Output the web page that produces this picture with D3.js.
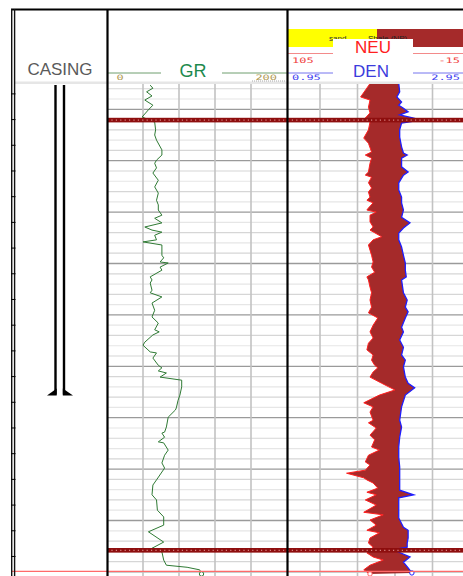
<!DOCTYPE html>
<html>
<head>
<meta charset="utf-8">
<script src="https://cdn.jsdelivr.net/npm/d3@7"></script>
<style>
body{margin:0;background:#fff;}
svg{display:block;font-family:"Liberation Sans",Arial,sans-serif;}
</style>
</head>
<body>
<div id="log"></div>
<script>
// well log: depth (m) vs GR (API), NEU (pu) and DEN (g/cc)
const grLog = [[1495.3,48],[1495.9,51],[1496.6,44],[1497.4,50],[1498.2,42],[1499.2,51],[1500.1,46],[1501.5,39],
  [1502.5,53],[1504.0,54],[1505.0,53],[1506.0,55],[1507.9,61],[1508.9,61],[1509.9,55],[1510.5,53],[1511.4,55],
  [1512.4,51],[1513.8,57],[1515.1,53],[1516.3,57],[1517.7,55],[1518.6,57],[1519.6,57],[1520.6,61],[1521.2,53],
  [1522.1,61],[1522.9,42],[1523.5,50],[1523.9,61],[1524.5,53],[1525.4,55],[1525.8,40],[1526.4,61],[1528.4,61],
  [1528.9,63],[1529.7,59],[1529.9,68],[1530.7,59],[1531.3,61],[1532.6,48],[1533.2,50],[1533.8,48],[1535.2,50],
  [1535.7,48],[1536.5,61],[1537.7,50],[1539.1,53],[1540.4,50],[1541.6,57],[1542.9,53],[1543.3,58],[1543.9,51],
  [1545.3,42],[1545.9,40],[1547.2,48],[1547.4,55],[1548.4,51],[1549.8,57],[1550.3,61],[1550.9,57],[1551.3,66],
  [1552.1,59],[1552.7,83],[1554.0,83],[1555.6,81],[1556.6,79],[1558.1,77],[1558.5,76],[1559.9,68],[1561.8,66],
  [1562.8,64],[1563.0,61],[1563.8,64],[1564.7,57],[1564.9,63],[1566.3,68],[1567.3,64],[1568.8,61],[1569.8,64],
  [1572.1,55],[1573.1,51],[1575.0,50],[1576.0,55],[1578.0,56],[1579.3,63],[1580.9,63],[1582.2,46],[1584.2,63],
  [1585.4,50],[1586.1,61],[1587.7,63],[1588.7,66],[1589.1,89],[1589.6,103],[1590.4,105]];

const neuLog = [[1495.0,49],[1497.6,55],[1498.2,49],[1499.6,50],[1500.7,49],[1501.7,52],[1502.5,49],[1504.0,50],
  [1505.6,53],[1506.6,50],[1508.3,48],[1508.9,52],[1509.5,48],[1510.5,49],[1512.2,50],[1512.8,52],[1513.2,48],
  [1514.3,50],[1515.3,48],[1516.1,50],[1517.1,49],[1517.7,51],[1518.2,47],[1519.2,50],[1519.6,51],[1520.0,45],
  [1520.6,49],[1521.9,49],[1522.9,47],[1523.5,49],[1524.8,41.5],[1525.4,47],[1526.4,50],[1527.4,49],[1528.4,48],
  [1529.7,47],[1530.7,48],[1531.7,46],[1532.6,51],[1533.2,50],[1534.6,49],[1535.7,48],[1537.1,49],[1538.5,48],
  [1539.6,50],[1540.6,44],[1542.0,47],[1543.3,49],[1544.5,47],[1545.5,50],[1546.8,51],[1547.8,47],[1548.8,48],
  [1549.8,46],[1550.3,44],[1551.1,47],[1552.1,49],[1553.3,41.5],[1554.0,37],[1554.6,33],[1555.6,43],[1557.1,53],
  [1557.9,47],[1558.9,49],[1560.5,47],[1561.0,50],[1562.0,45],[1563.4,49],[1564.3,46],[1565.7,48],[1566.3,43],
  [1567.3,50],[1568.6,52],[1569.2,49],[1570.2,52],[1570.8,64],[1571.7,53],[1572.1,51],[1572.7,47],[1573.7,44],
  [1574.5,51],[1575.0,45],[1576.0,52],[1577.0,45],[1578.4,53],[1578.9,40.5],[1579.9,49],[1580.9,45],[1581.9,51],
  [1582.4,43],[1583.4,49],[1584.4,50],[1585.2,47],[1586.3,51],[1587.1,47],[1587.7,40.5],[1588.7,49],[1589.6,53],
  [1590.4,49]];

const denLog = [[1495.0,2.19],[1496.6,2.20],[1497.6,2.17],[1498.6,2.22],[1499.2,2.19],[1499.8,2.24],[1500.5,2.29],
  [1501.1,2.20],[1501.7,2.35],[1502.1,2.42],[1502.7,2.22],[1504.0,2.20],[1505.4,2.20],[1507.3,2.22],[1508.5,2.24],
  [1508.9,2.28],[1509.5,2.22],[1511.2,2.22],[1512.2,2.29],[1512.8,2.24],[1514.3,2.19],[1515.7,2.19],[1517.1,2.22],
  [1518.2,2.22],[1519.6,2.24],[1521.0,2.22],[1522.1,2.31],[1523.1,2.24],[1524.1,2.19],[1525.4,2.19],[1526.8,2.22],
  [1528.4,2.24],[1529.9,2.26],[1531.3,2.26],[1532.6,2.27],[1533.2,2.22],[1535.7,2.24],[1537.1,2.28],[1538.5,2.26],
  [1539.4,2.29],[1540.6,2.26],[1542.4,2.22],[1543.3,2.24],[1544.9,2.20],[1546.3,2.24],[1547.8,2.22],[1548.8,2.26],
  [1550.1,2.24],[1552.1,2.26],[1553.3,2.29],[1554.2,2.36],[1555.6,2.26],[1557.9,2.22],[1560.5,2.20],[1561.8,2.22],
  [1563.8,2.20],[1565.7,2.19],[1567.7,2.19],[1569.6,2.20],[1571.7,2.20],[1574.1,2.20],[1575.0,2.35],[1575.6,2.19],
  [1578.0,2.19],[1579.5,2.19],[1581.3,2.24],[1581.9,2.29],[1583.4,2.29],[1584.4,2.28],[1585.2,2.28],[1585.7,2.13],
  [1587.1,2.31],[1588.1,2.24],[1589.2,2.29],[1590.2,2.33]];

// formation tops, total depth, casing shoe
const topDepths = [1502.1, 1585.8];
const tdDepth = 1589.9;
const casingShoe = 1555.5;

// ticks / labels
const depthGrid = d3.range(1496, 1591, 2);
const depthTicks = d3.range(1497, 1592, 5);
const grGrid = [40, 80, 120, 160];
const denGrid = [1.35, 1.75, 2.15, 2.55];
const grScaleLabels = ['0', '200'];
const neuScaleLabels = ['105', '-15'];
const denScaleLabels = ['0.95', '2.95'];
const bandLabels = ['sand', 'Shale (NP)'];

class LogPlot {
    constructor(el){
        this.width = 463;
        this.height = 576;
        this.dataTop = 84;
        this.init(el);
    }
    init(el){
        this.svg = d3.select(el).append('svg')
            .attr('width', this.width)
            .attr('height', this.height);

        this.y = d3.scaleLinear().domain([1500, 1590]).range([109.3, 571.9]);
        this.xGR = d3.scaleLinear().domain([0, 200]).range([107, 287]);
        this.xNEU = d3.scaleLinear().domain([105, -15]).range([282.5, 470]);
        this.xDEN = d3.scaleLinear().domain([0.95, 2.95]).range([282.5, 470]);

        this.svg.append('defs').append('clipPath').attr('id', 'data-clip')
            .append('rect')
            .attr('x', 107).attr('y', this.dataTop)
            .attr('width', 370).attr('height', this.height - this.dataTop);

        this.drawGrid();
        this.drawCurves();
        this.drawTops();
        this.drawCasing();
        this.drawHeader();
        this.drawFrame();
    }
    drawGrid(){
        let g = this.svg.append('g').attr('class', 'grid');
        g.selectAll('.hline').data(depthGrid).enter().append('line')
            .attr('x1', 107).attr('x2', 470)
            .attr('y1', d => this.y(d)).attr('y2', d => this.y(d))
            .attr('stroke', d => d % 10 === 0 ? '#9a9a9a' : (d % 4 === 0 ? '#d6d6d6' : '#e6e6e6'))
            .attr('stroke-width', d => d % 10 === 0 ? 1.3 : 1.2);

        g.selectAll('.vgr').data(grGrid).enter().append('line')
            .attr('x1', d => this.xGR(d)).attr('x2', d => this.xGR(d))
            .attr('y1', this.dataTop).attr('y2', this.height)
            .attr('stroke', '#c2c2c2').attr('stroke-width', 1.6);

        g.selectAll('.vden').data(denGrid).enter().append('line')
            .attr('x1', d => this.xDEN(d)).attr('x2', d => this.xDEN(d))
            .attr('y1', this.dataTop).attr('y2', this.height)
            .attr('stroke', '#c2c2c2').attr('stroke-width', 1.6);
    }
    drawCurves(){
        let g = this.svg.append('g').attr('clip-path', 'url(#data-clip)');

        // NEU-DEN fill: down the neutron curve, back up the density curve
        let poly = neuLog.map(d => [this.xNEU(d[1]), this.y(d[0])])
            .concat(denLog.slice().reverse().map(d => [this.xDEN(d[1]), this.y(d[0])]));
        g.append('path')
            .attr('d', d3.line()(poly) + 'Z')
            .attr('fill', '#a52a2a');

        g.append('path')
            .datum(neuLog)
            .attr('d', d3.line().x(d => this.xNEU(d[1])).y(d => this.y(d[0])))
            .attr('fill', 'none').attr('stroke', '#ff1e1e').attr('stroke-width', 1);

        g.append('path')
            .datum(denLog)
            .attr('d', d3.line().x(d => this.xDEN(d[1])).y(d => this.y(d[0])))
            .attr('fill', 'none').attr('stroke', '#1e1eff').attr('stroke-width', 1.3);

        g.append('path')
            .datum(grLog)
            .attr('d', d3.line().x(d => this.xGR(d[1])).y(d => this.y(d[0])))
            .attr('fill', 'none').attr('stroke', '#2f7a34').attr('stroke-width', 1);

        //end markers
        let lastGR = grLog[grLog.length - 1], lastDEN = denLog[denLog.length - 1], lastNEU = neuLog[neuLog.length - 1];
        g.append('circle').attr('cx', this.xGR(lastGR[1])).attr('cy', this.y(lastGR[0])).attr('r', 2.2)
            .attr('fill', '#fff').attr('stroke', '#2f7a34');
        g.append('circle').attr('cx', this.xDEN(lastDEN[1])).attr('cy', this.y(lastDEN[0])).attr('r', 2.2)
            .attr('fill', '#fff').attr('stroke', '#1e1eff');
        g.append('circle').attr('cx', this.xNEU(lastNEU[1])).attr('cy', this.y(lastNEU[0])).attr('r', 2.2)
            .attr('fill', '#fff').attr('stroke', '#ff6060');
    }
    drawTops(){
        let g = this.svg.append('g');
        g.selectAll('.top').data(topDepths).enter().append('rect')
            .attr('x', 107).attr('width', 370)
            .attr('y', d => this.y(d) - 2.3).attr('height', 4.6)
            .attr('fill', '#8e0e0e');
        g.selectAll('.topdot').data(topDepths).enter().append('line')
            .attr('x1', 107).attr('x2', 470)
            .attr('y1', d => this.y(d)).attr('y2', d => this.y(d))
            .attr('stroke', '#e9a0a0').attr('stroke-width', 1)
            .attr('stroke-dasharray', '1.2,3.2');

        // total depth line
        g.append('line')
            .attr('x1', 12).attr('x2', 470)
            .attr('y1', this.y(tdDepth)).attr('y2', this.y(tdDepth))
            .attr('stroke', '#ff6a6a').attr('stroke-width', 1.2);
    }
    drawCasing(){
        let g = this.svg.append('g');
        let yb = this.y(casingShoe);
        [55.5, 64].forEach(x => {
            g.append('line').attr('x1', x).attr('x2', x)
                .attr('y1', this.dataTop + 1).attr('y2', yb)
                .attr('stroke', '#000').attr('stroke-width', 2.4);
        });
        g.append('path').attr('d', `M56.7,${yb-6}L56.7,${yb+1}L47,${yb+1}Z`).attr('fill', '#000');
        g.append('path').attr('d', `M62.8,${yb-6}L62.8,${yb+1}L73,${yb+1}Z`).attr('fill', '#000');
    }
    scaleText(g, txt, x, y, anchor, color){
        g.append('text')
            .attr('x', x).attr('y', y)
            .attr('text-anchor', anchor)
            .attr('textLength', txt.length * 7.2)
            .attr('lengthAdjust', 'spacingAndGlyphs')
            .style('font-family', '"DejaVu Sans Mono", monospace')
            .style('font-size', '7.5px')
            .attr('fill', color)
            .text(txt);
    }
    drawHeader(){
        let g = this.svg.append('g').attr('class', 'header');

        // header separator
        g.append('rect').attr('x', 14).attr('y', 81.5).attr('width', 460).attr('height', 2.5).attr('fill', '#e6e6e6');

        // lithology legend band
        g.append('rect').attr('x', 287).attr('y', 29).attr('width', 90).attr('height', 18).attr('fill', '#ffff00');
        g.append('rect').attr('x', 377).attr('y', 29).attr('width', 100).attr('height', 18).attr('fill', '#a52a2a');
        g.append('text').attr('x', 329).attr('y', 40.5)
            .style('font-size', '8px').attr('fill', '#333').text(bandLabels[0]);
        g.append('text').attr('x', 368).attr('y', 40.5)
            .style('font-size', '8px').attr('fill', '#222').text(bandLabels[1]);

        // GR header
        g.append('line').attr('x1', 107).attr('x2', 287).attr('y1', 73).attr('y2', 73)
            .attr('stroke', '#6f9e6f').attr('stroke-width', 1);
        g.append('rect').attr('x', 161).attr('y', 55).attr('width', 61).attr('height', 26).attr('fill', '#fff');
        g.append('text').attr('x', 193).attr('y', 76.7).attr('text-anchor', 'middle')
            .style('font-size', '18px').attr('fill', '#1e8a4e').text('GR');
        this.scaleText(g, grScaleLabels[0], 120, 80, 'middle', '#b09a55');
        this.scaleText(g, grScaleLabels[1], 277, 80, 'end', '#b09a55');
        g.append('line').attr('x1', 252).attr('x2', 285).attr('y1', 81).attr('y2', 81)
            .attr('stroke', '#aaa').attr('stroke-dasharray', '1,1');

        // NEU / DEN header
        g.append('line').attr('x1', 287).attr('x2', 470).attr('y1', 53.5).attr('y2', 53.5)
            .attr('stroke', '#f38a8a').attr('stroke-width', 1);
        g.append('line').attr('x1', 287).attr('x2', 470).attr('y1', 73).attr('y2', 73)
            .attr('stroke', '#7474ee').attr('stroke-width', 1);
        g.append('rect').attr('x', 333).attr('y', 39).attr('width', 80).attr('height', 42).attr('fill', '#fff');
        g.append('text').attr('x', 373).attr('y', 53.3).attr('text-anchor', 'middle')
            .style('font-size', '17px').attr('fill', '#ff2020').text('NEU');
        g.append('text').attr('x', 371).attr('y', 77).attr('text-anchor', 'middle')
            .style('font-size', '17px').attr('fill', '#3c3cdc').text('DEN');
        this.scaleText(g, neuScaleLabels[0], 292, 63, 'start', '#f04040');
        this.scaleText(g, neuScaleLabels[1], 460, 63, 'end', '#f04040');
        this.scaleText(g, denScaleLabels[0], 292, 80, 'start', '#4040f0');
        this.scaleText(g, denScaleLabels[1], 460, 80, 'end', '#4040f0');

        // casing header
        g.append('text').attr('x', 60).attr('y', 75.3).attr('text-anchor', 'middle')
            .style('font-size', '17px').attr('fill', '#5a5a5a').text('CASING');
    }
    drawFrame(){
        let g = this.svg.append('g').attr('class', 'frame');
        g.append('line').attr('x1', 11).attr('x2', 470).attr('y1', 9.5).attr('y2', 9.5)
            .attr('stroke', '#000').attr('stroke-width', 2);
        [11.7, 14.6].forEach(x => {
            g.append('line').attr('x1', x).attr('x2', x).attr('y1', 9).attr('y2', this.height)
                .attr('stroke', '#111').attr('stroke-width', 1.4);
        });
        [107.5, 287.5].forEach(x => {
            g.append('line').attr('x1', x).attr('x2', x).attr('y1', 9).attr('y2', this.height)
                .attr('stroke', '#000').attr('stroke-width', 2.2);
        });
        g.selectAll('.dtick').data(depthTicks).enter().append('line')
            .attr('x1', 11).attr('x2', 15.5)
            .attr('y1', d => this.y(d)).attr('y2', d => this.y(d))
            .attr('stroke', '#000').attr('stroke-width', 1);
    }
}

new LogPlot('#log');
</script>
</body>
</html>
